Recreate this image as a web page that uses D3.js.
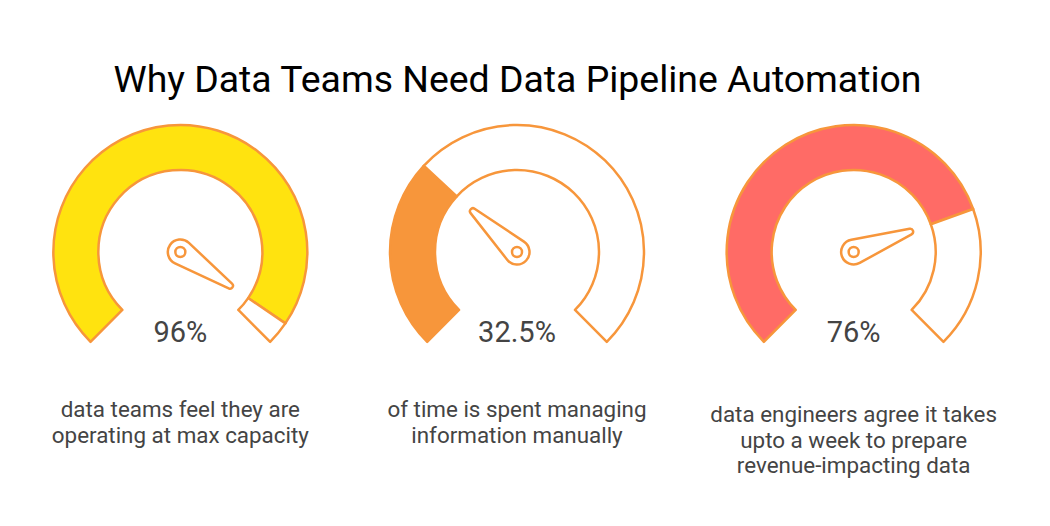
<!DOCTYPE html>
<html>
<head>
<meta charset="utf-8">
<script src="https://cdn.jsdelivr.net/npm/d3@7"></script>
<style>
  html, body { margin:0; padding:0; background:#fff; }
  svg { display:block; font-family: Roboto, "Noto Sans", sans-serif; }
</style>
</head>
<body>
<svg id="chart" width="1050" height="526"></svg>
<script>
// --- data ---
const title = 'Why Data Teams Need Data Pipeline Automation';
const gauges = ['capacity', 'manual', 'week'];
const values = [96, 32.5, 76];
const valueLabels = ['96%', '32.5%', '76%'];
const fills = ['#FFE30F', '#F7963B', '#FF6B66'];
const captions = [
  ['data teams feel they are', 'operating at max capacity'],
  ['of time is spent managing', 'information manually'],
  ['data engineers agree it takes', 'upto a week to prepare', 'revenue-impacting data']
];

// --- layout ---
const W = 1050, H = 526;
const stroke = '#F7963B';
const cy = 252;
const rIn = 82, rOut = 127;

const svg = d3.select('#chart');

const x = d3.scaleBand().domain(gauges).range([12, 1022]);
const angle = d3.scaleLinear().domain([0, 100]).range([-3 * Math.PI / 4, 3 * Math.PI / 4]);

const arc = d3.arc().innerRadius(rIn).outerRadius(rOut);

svg.append('text')
  .attr('x', 517.5).attr('y', 92)
  .attr('text-anchor', 'middle')
  .attr('font-size', 37.4)
  .attr('fill', '#000')
  .text(title);

// needle: hub circle + tapered arm ending in a small round tip
function needlePath(a){
  const R = 12.5, r = 3, L = 60;
  const ux = Math.sin(a), uy = -Math.cos(a);
  const nx = -uy, ny = ux;
  const c = (R - r) / L, s = Math.sqrt(1 - c*c);
  const tx = ux * L, ty = uy * L;
  const p1 = [R*(c*ux + s*nx), R*(c*uy + s*ny)];
  const p2 = [tx + r*(c*ux + s*nx), ty + r*(c*uy + s*ny)];
  const p3 = [tx + r*(c*ux - s*nx), ty + r*(c*uy - s*ny)];
  const p4 = [R*(c*ux - s*nx), R*(c*uy - s*ny)];
  return `M${p1}L${p2}A${r},${r} 0 0 0 ${p3}L${p4}A${R},${R} 0 1 0 ${p1}Z`;
}

const g = svg.selectAll('g.gauge')
  .data(gauges)
  .join('g')
  .attr('class', 'gauge')
  .attr('transform', d => `translate(${x(d) + x.bandwidth()/2},${cy})`);

// filled part
g.append('path')
  .attr('d', (d,i) => arc({ startAngle: angle(0), endAngle: angle(values[i]) }))
  .attr('fill', (d,i) => fills[i])
  .attr('stroke', stroke).attr('stroke-width', 2.5).attr('stroke-linejoin', 'round');

// remaining part
g.append('path')
  .attr('d', (d,i) => arc({ startAngle: angle(values[i]), endAngle: angle(100) }))
  .attr('fill', '#fff')
  .attr('stroke', stroke).attr('stroke-width', 2.5).attr('stroke-linejoin', 'round');

g.append('path')
  .attr('d', (d,i) => needlePath(angle(values[i])))
  .attr('fill', '#fff')
  .attr('stroke', stroke).attr('stroke-width', 2.5).attr('stroke-linejoin', 'round');

g.append('circle')
  .attr('r', 5)
  .attr('fill', '#fff')
  .attr('stroke', stroke).attr('stroke-width', 2.5);

g.append('text')
  .attr('y', 90)
  .attr('text-anchor', 'middle')
  .attr('font-size', 29)
  .attr('fill', '#444')
  .text((d,i) => valueLabels[i]);

// captions
const capTop = [417, 417, 422];
g.each(function(d,i){
  const t = d3.select(this).append('text')
    .attr('text-anchor', 'middle')
    .attr('font-size', 22.4)
    .attr('fill', '#444');
  captions[i].forEach((line, j) => {
    t.append('tspan').attr('x', 0).attr('y', capTop[i] - cy + j*25.7).text(line);
  });
});
</script>
</body>
</html>
